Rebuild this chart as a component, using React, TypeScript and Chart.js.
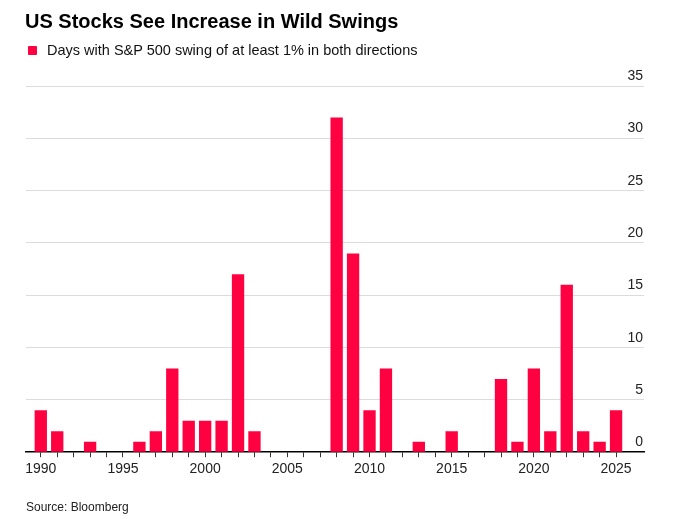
import React, { useEffect, useRef } from "react";
import { Chart, registerables } from "chart.js";

Chart.register(...registerables);

const years = [
  1990, 1991, 1992, 1993, 1994, 1995, 1996, 1997, 1998, 1999,
  2000, 2001, 2002, 2003, 2004, 2005, 2006, 2007, 2008, 2009,
  2010, 2011, 2012, 2013, 2014, 2015, 2016, 2017, 2018, 2019,
  2020, 2021, 2022, 2023, 2024, 2025,
];
const swingDays = [
  4, 2, 0, 1, 0, 0, 1, 2, 8, 3,
  3, 3, 17, 2, 0, 0, 0, 0, 32, 19,
  4, 8, 0, 1, 0, 2, 0, 0, 7, 1,
  8, 2, 16, 2, 1, 4,
];
const xTickLabels = ["1990", "1995", "2000", "2005", "2010", "2015", "2020", "2025"];
const yTickLabels = ["0", "5", "10", "15", "20", "25", "30", "35"];

const TITLE = "US Stocks See Increase in Wild Swings";
const LEGEND = "Days with S&P 500 swing of at least 1% in both directions";
const SOURCE = "Source: Bloomberg";

const FONT = "'Liberation Sans', Arial, Helvetica, sans-serif";
const RED = "#ff0040";

export default function App() {
  const ref = useRef<HTMLCanvasElement | null>(null);

  useEffect(() => {
    if (!ref.current) return;
    const yLabelPlugin = {
      id: "yLabels",
      afterDraw(chart: any) {
        const ctx = chart.ctx;
        const y = chart.scales.y;
        const area = chart.chartArea;
        ctx.save();
        ctx.font = `14px ${FONT}`;
        ctx.fillStyle = "#222";
        ctx.textAlign = "right";
        ctx.textBaseline = "alphabetic";
        yTickLabels.forEach((t) => {
          const py = y.getPixelForValue(Number(t));
          ctx.fillText(t, area.right - 1, py - 6);
        });
        ctx.restore();
      },
    };
    const chart = new Chart(ref.current, {
      type: "bar",
      data: {
        datasets: [
          {
            data: years.map((yr, i) => ({ x: yr, y: swingDays[i] })),
            backgroundColor: RED,
            borderWidth: 0,
            barPercentage: 0.75,
            categoryPercentage: 1,
          },
        ],
      },
      options: {
        animation: false,
        responsive: false,
        maintainAspectRatio: false,
        layout: { padding: { left: 26, right: 37, top: 86, bottom: 37 } },
        plugins: {
          legend: { display: false },
          tooltip: { enabled: false },
          title: { display: false },
        },
        scales: {
          x: {
            type: "linear",
            offset: false,
            min: 1989.1,
            max: 2026.7,
            afterBuildTicks: (scale: any) => {
              scale.ticks = years.map((v) => ({ value: v }));
            },
            ticks: {
              autoSkip: false,
              maxRotation: 0,
              padding: 4,
              color: "#222",
              font: { family: FONT, size: 14 },
              callback: (v: any) => {
                const s = String(v);
                return xTickLabels.includes(s) ? s : "";
              },
            },
            grid: {
              offset: false,
              drawOnChartArea: false,
              drawTicks: true,
              tickLength: 5,
              color: "#333",
              lineWidth: 1,
            },
            border: { display: true, color: "#000", width: 1.5 },
          },
          y: {
            position: "right",
            min: 0,
            max: 35,
            ticks: { display: false, stepSize: 5 },
            grid: {
              drawTicks: false,
              color: (c: any) => (c.tick && c.tick.value === 0 ? "rgba(0,0,0,0)" : "#dcdcdc"),
              lineWidth: 1,
            },
            border: { display: false },
          },
        },
      },
      plugins: [yLabelPlugin],
    } as any);
    return () => chart.destroy();
  }, []);

  return (
    <div
      style={{
        position: "fixed",
        left: 0,
        top: 0,
        width: 681,
        height: 519,
        background: "#fff",
        fontFamily: FONT,
        color: "#000",
      }}
    >
      <canvas
        ref={ref}
        width={681}
        height={519}
        style={{ position: "absolute", left: 0, top: 0, width: 681, height: 519 }}
      />
      <div
        style={{
          position: "absolute",
          left: 25,
          top: 8,
          fontSize: 20,
          fontWeight: 700,
          lineHeight: "26px",
          whiteSpace: "nowrap",
        }}
      >
        {TITLE}
      </div>
      <div
        style={{
          position: "absolute",
          left: 28,
          top: 40,
          display: "flex",
          alignItems: "center",
          fontSize: 14.5,
          lineHeight: "20px",
          whiteSpace: "nowrap",
          color: "#111",
        }}
      >
        <span
          style={{
            display: "inline-block",
            width: 9,
            height: 9,
            background: RED,
            borderRadius: 1,
            marginRight: 10,
          }}
        />
        <span>{LEGEND}</span>
      </div>
      <div
        style={{
          position: "absolute",
          left: 26,
          top: 499,
          fontSize: 12,
          lineHeight: "16px",
          color: "#222",
          whiteSpace: "nowrap",
        }}
      >
        {SOURCE}
      </div>
    </div>
  );
}
